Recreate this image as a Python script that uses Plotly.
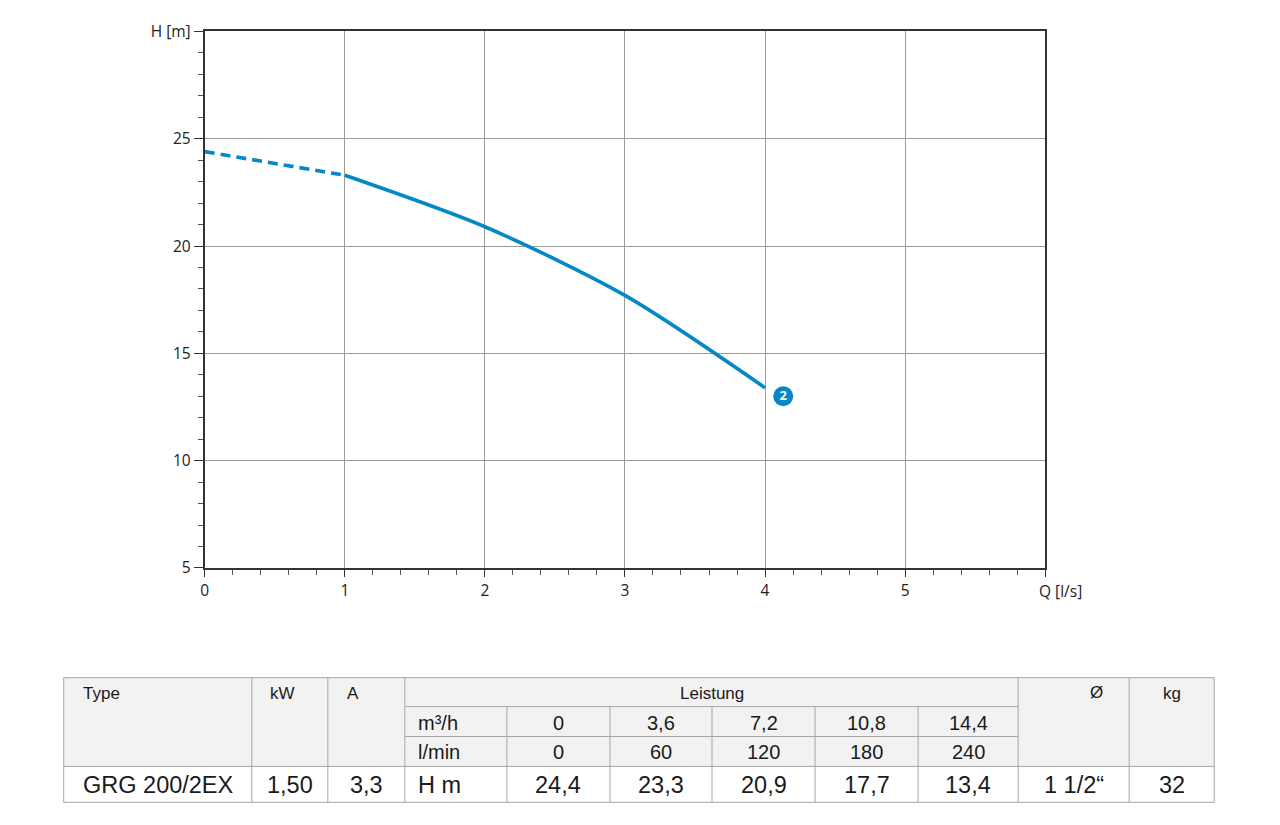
import plotly.graph_objects as go

W, H = 1264, 809   # Fenster 1280x825 minus Body-Rand
# Ausgleich für Versatz/Skalierung des Screenshots
AX, AY = 12.3, 18.5
SX, SY = 0.9964, 0.9755

# ── Daten ──────────────────────────────────────────────────────────────────────
q_ls = [0, 1, 2, 3, 4]                 # Förderstrom [l/s]
h_m = [24.4, 23.3, 20.9, 17.7, 13.4]   # Förderhöhe [m]
curve_label = "2"
label_q, label_h = 4.13, 13.0

x_ticks = [0, 1, 2, 3, 4, 5, 6]
x_ticktext = ["0", "1", "2", "3", "4", "5", ""]
x_title = "Q [l/s]"
y_ticks = [5, 10, 15, 20, 25, 30]
y_ticktext = ["5", "10", "15", "20", "25", "H [m]"]

pump_type = "GRG 200/2EX"
power_kw = "1,50"
current_a = "3,3"
flow_m3h = ["0", "3,6", "7,2", "10,8", "14,4"]
flow_lmin = ["0", "60", "120", "180", "240"]
head_row = ["24,4", "23,3", "20,9", "17,7", "13,4"]
diameter = "1 1/2“"
weight_kg = "32"

BLUE = "#0587c8"
GRID = "#9a9a9a"
FRAME = "#333333"
TBL_LINE = "#a6a6a6"
TBL_BG = "#f2f2f2"
TICK_FONT = dict(family="Open Sans", size=15.5, color="#222222")
TBL_FONT = "Liberation Sans"

# ── Kennlinie ──────────────────────────────────────────────────────────────────
fig = go.Figure()
fig.add_trace(go.Scatter(
    x=q_ls[:2], y=h_m[:2], mode="lines",
    line=dict(color=BLUE, width=3.6, dash="10px,6px"),
    hoverinfo="skip", showlegend=False,
))
fig.add_trace(go.Scatter(
    x=q_ls[1:], y=h_m[1:], mode="lines",
    line=dict(color=BLUE, width=3.6, shape="spline", smoothing=0.8),
    showlegend=False,
))
fig.add_trace(go.Scatter(
    x=[label_q], y=[label_h], mode="markers+text",
    marker=dict(size=20, color=BLUE),
    text=["<b>" + curve_label + "</b>"], textposition="middle center",
    textfont=dict(family="Open Sans", size=13, color="white"),
    showlegend=False, hoverinfo="skip",
))

px2x = lambda p: ((p - AX) / SX) / W
px2y = lambda p: 1 - ((p - AY) / SY) / H

fig.update_layout(
    width=W, height=H,
    margin=dict(l=0, r=0, t=0, b=0),
    plot_bgcolor="white", paper_bgcolor="white",
    xaxis=dict(
        domain=[px2x(205), px2x(1045)], range=[0, 6],
        tickvals=x_ticks, ticktext=x_ticktext, tickfont=TICK_FONT,
        ticks="outside", ticklen=7, tickcolor=FRAME, tickwidth=1,
        showgrid=True, gridcolor=GRID, gridwidth=1, zeroline=False,
        showline=True, linecolor=FRAME, linewidth=2, mirror=True,
        minor=dict(dtick=0.2, ticks="outside", ticklen=5, tickcolor="#555555", showgrid=False),
        fixedrange=True,
    ),
    yaxis=dict(
        domain=[px2y(568), px2y(30)], range=[5, 30],
        tickvals=y_ticks, ticktext=y_ticktext, tickfont=TICK_FONT,
        ticks="outside", ticklen=9, tickcolor=FRAME, tickwidth=1,
        showgrid=True, gridcolor=GRID, gridwidth=1, zeroline=False,
        showline=True, linecolor=FRAME, linewidth=2, mirror=True,
        minor=dict(dtick=1, ticks="outside", ticklen=5, tickcolor="#555555", showgrid=False),
        fixedrange=True,
    ),
)

# ── Tabelle ────────────────────────────────────────────────────────────────────
cols = [64, 252, 328, 405, 507, 610, 712, 815, 918, 1018, 1129, 1214]
rows = [678, 707, 737, 767, 803]

shapes = []
def rect(x0, y0, x1, y1, fill):
    shapes.append(dict(type="rect", xref="paper", yref="paper",
                       x0=px2x(x0), x1=px2x(x1), y0=px2y(y1), y1=px2y(y0),
                       fillcolor=fill, line=dict(width=0), layer="below"))

def line(x0, y0, x1, y1):
    shapes.append(dict(type="line", xref="paper", yref="paper",
                       x0=px2x(x0), x1=px2x(x1), y0=px2y(y0), y1=px2y(y1),
                       line=dict(color=TBL_LINE, width=1)))

rect(cols[0], rows[0], cols[-1], rows[3], TBL_BG)
rect(cols[0], rows[3], cols[-1], rows[4], "white")

# horizontale Linien
line(cols[0], rows[0], cols[-1], rows[0])
line(cols[3], rows[1], cols[9], rows[1])
line(cols[3], rows[2], cols[9], rows[2])
line(cols[0], rows[3], cols[-1], rows[3])
line(cols[0], rows[4], cols[-1], rows[4])
# vertikale Linien
for i, c in enumerate(cols):
    if i in (0, 1, 2, 3, 9, 10, 11):
        line(c, rows[0], c, rows[4])
    else:
        line(c, rows[1], c, rows[4])

annos = []
def txt(x, y, s, size=17, anchor="center", family=TBL_FONT, color="#1a1a1a"):
    annos.append(dict(xref="paper", yref="paper", x=px2x(x), y=px2y(y),
                      text=s, showarrow=False, xanchor=anchor, yanchor="middle",
                      font=dict(family=family, size=size, color=color)))

# Achsenbeschriftung Q rechts neben dem letzten Tick
txt(1037, 591, x_title, size=TICK_FONT["size"], anchor="left",
    family=TICK_FONT["family"], color=TICK_FONT["color"])

hdr_y = (rows[0] + rows[1]) / 2 + 1
txt(81, hdr_y, "Type", anchor="left")
txt(268, hdr_y, "kW", anchor="left")
txt(345, hdr_y, "A", anchor="left")
txt((cols[3] + cols[9]) / 2, hdr_y, "Leistung")
txt(1096, hdr_y - 1, "Ø")
txt((cols[10] + cols[11]) / 2, hdr_y, "kg")

y2 = (rows[1] + rows[2]) / 2 + 1
y3 = (rows[2] + rows[3]) / 2 + 1
txt(416, y2, "m³/h", size=20, anchor="left")
txt(416, y3, "l/min", size=20, anchor="left")
for i in range(5):
    cx = (cols[4 + i] + cols[5 + i]) / 2
    txt(cx, y2, flow_m3h[i], size=20)
    txt(cx, y3, flow_lmin[i], size=20)

y4 = (rows[3] + rows[4]) / 2 + 1
txt(81, y4, pump_type, size=23.5, anchor="left")
txt((cols[1] + cols[2]) / 2, y4, power_kw, size=23.5)
txt((cols[2] + cols[3]) / 2, y4, current_a, size=23.5)
txt(416, y4, "H m", size=23.5, anchor="left")
for i in range(5):
    txt((cols[4 + i] + cols[5 + i]) / 2, y4, head_row[i], size=23.5)
txt((cols[9] + cols[10]) / 2, y4, diameter, size=23.5)
txt((cols[10] + cols[11]) / 2, y4, weight_kg, size=23.5)

fig.update_layout(shapes=shapes, annotations=annos)
fig.write_html("out.html")
